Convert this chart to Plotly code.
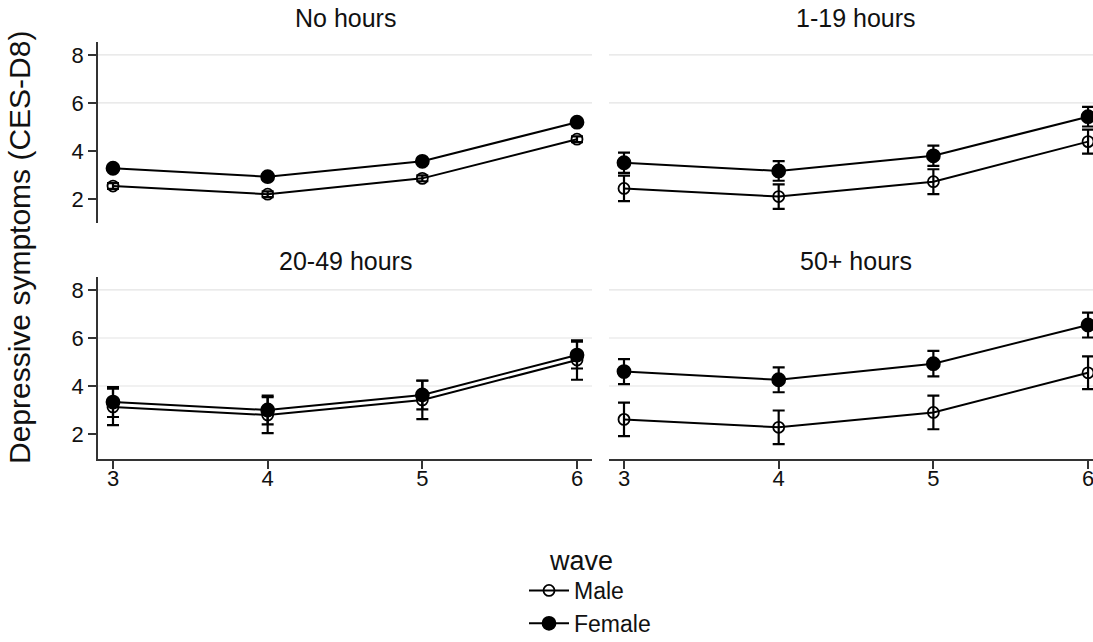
import plotly.graph_objects as go

# ---------------- data ----------------
waves = [3, 4, 5, 6]
panels = ["No hours", "1-19 hours", "20-49 hours", "50+ hours"]

male_means = [
    [2.54, 2.20, 2.86, 4.49],
    [2.44, 2.10, 2.72, 4.39],
    [3.13, 2.79, 3.42, 5.08],
    [2.61, 2.28, 2.90, 4.55],
]
male_ci = [
    [0.12, 0.12, 0.12, 0.12],
    [0.53, 0.51, 0.52, 0.50],
    [0.76, 0.75, 0.80, 0.82],
    [0.70, 0.70, 0.70, 0.68],
]
female_means = [
    [3.28, 2.93, 3.57, 5.20],
    [3.51, 3.17, 3.80, 5.43],
    [3.33, 3.00, 3.63, 5.29],
    [4.60, 4.26, 4.93, 6.54],
]
female_ci = [
    [0.10, 0.10, 0.10, 0.10],
    [0.42, 0.41, 0.42, 0.41],
    [0.62, 0.60, 0.60, 0.56],
    [0.52, 0.52, 0.53, 0.52],
]
series_names = ["Male", "Female"]
y_ticks = [2, 4, 6, 8]

# ---------------- layout geometry (pixels) ----------------
W, H = 1093, 642
FONT = "Liberation Sans, Arial, sans-serif"
ML, MR, MT, MB = 98, 0, 42, 183          # plot area = 98..1093, 42..459
PW, PH = W - ML - MR, H - MT - MB

def fx(p):   # pixel x -> paper fraction
    return (p - ML) / PW

def fy(p):   # pixel y -> paper fraction
    return (H - MB - p) / PH

x_dom_left = [fx(98), fx(592)]
x_dom_right = [fx(609), 1.0]
y_dom_top = [fy(223), fy(42)]
y_dom_bot = [fy(459), fy(277)]

# (xaxis id, yaxis id, x domain, y domain, show y axis, show x axis)
panel_axes = [
    ("x", "y", x_dom_left, y_dom_top, True, False),
    ("x2", "y2", x_dom_right, y_dom_top, False, False),
    ("x3", "y3", x_dom_left, y_dom_bot, True, True),
    ("x4", "y4", x_dom_right, y_dom_bot, False, True),
]

fig = go.Figure()
LINE_COLOR = "#000000"

for i, (xa, ya, xd, yd, sy, sx) in enumerate(panel_axes):
    for s, (means, ci) in enumerate([(male_means, male_ci), (female_means, female_ci)]):
        fig.add_trace(go.Scatter(
            x=waves, y=means[i],
            xaxis=xa, yaxis=ya,
            mode="lines+markers",
            name=series_names[s],
            legendgroup=series_names[s],
            showlegend=(i == 0),
            line=dict(color=LINE_COLOR, width=2),
            marker=dict(
                symbol="circle-open" if s == 0 else "circle",
                size=11 if s == 0 else 13,
                color=LINE_COLOR,
                line=dict(color=LINE_COLOR, width=1.8),
            ),
            error_y=dict(type="data", array=ci[i], visible=True,
                         color=LINE_COLOR, thickness=2.2, width=6),
        ))

axis_common = dict(
    tickfont=dict(family=FONT, size=22, color="#111111"),
    showgrid=False, zeroline=False,
    linecolor="#333333", linewidth=1.6,
    tickcolor="#333333", tickwidth=1.6, ticklen=8,
    ticklabeloverflow="allow",
)

layout = dict(
    width=W, height=H,
    margin=dict(l=ML, r=MR, t=MT, b=MB, pad=0),
    plot_bgcolor="white", paper_bgcolor="white",
    font=dict(family=FONT, color="#111111"),
    showlegend=True,
    legend=dict(
        xref="paper", yref="container",
        x=fx(524), xanchor="left",
        y=1 - 569 / H, yanchor="top",
        font=dict(family=FONT, size=23, color="#111111"),
        bgcolor="rgba(0,0,0,0)",
        itemwidth=40,
        tracegroupgap=0,
    ),
)

shapes = []
annotations = []
for i, (xa, ya, xd, yd, sy, sx) in enumerate(panel_axes):
    xkey = "xaxis" if xa == "x" else "xaxis" + xa[1:]
    ykey = "yaxis" if ya == "y" else "yaxis" + ya[1:]
    xr = [2.903, 6.097] if xd is x_dom_left else [2.903, 6.032]
    yr = [1.0, 8.54] if yd is y_dom_top else [0.96, 8.54]
    layout[xkey] = dict(
        axis_common, domain=xd, range=xr, anchor=ya,
        tickvals=waves, showticklabels=sx, showline=sx,
        ticks="outside" if sx else "",
        ticklabelstandoff=-9,
    )
    layout[ykey] = dict(
        axis_common, domain=yd, range=yr, anchor=xa,
        tickvals=y_ticks, showticklabels=sy, showline=sy,
        ticks="outside" if sy else "",
    )
    grid_vals = [6, 8] if yd is y_dom_top else [4, 6, 8]
    for g in grid_vals:
        shapes.append(dict(
            type="line", xref=f"{xa} domain", yref=ya,
            x0=0, x1=1, y0=g, y1=g, layer="below",
            line=dict(color="#e3e3e3", width=1.2),
        ))
    title_y = fy(18) if yd is y_dom_top else fy(261)
    title_x = (xd[0] + xd[1]) / 2 if xd is x_dom_left else (fx(609) + fx(1102)) / 2
    annotations.append(dict(
        text=panels[i], xref="paper", yref="paper",
        x=title_x, y=title_y, xanchor="center", yanchor="middle", showarrow=False,
        font=dict(family=FONT, size=25, color="#111111"),
    ))

annotations.append(dict(
    text="Depressive symptoms (CES-D8)", xref="paper", yref="paper",
    x=fx(19), y=fy(248), textangle=-90,
    xanchor="center", yanchor="middle", showarrow=False,
    font=dict(family=FONT, size=30, color="#111111"),
))
annotations.append(dict(
    text="wave", xref="paper", yref="paper",
    x=fx(581), y=fy(561),
    xanchor="center", yanchor="middle", showarrow=False,
    font=dict(family=FONT, size=27, color="#111111"),
))

layout["shapes"] = shapes
layout["annotations"] = annotations
fig.update_layout(**layout)

fig.write_html("out.html", config={"displayModeBar": False},
               post_script="document.body.style.margin='0px';")
